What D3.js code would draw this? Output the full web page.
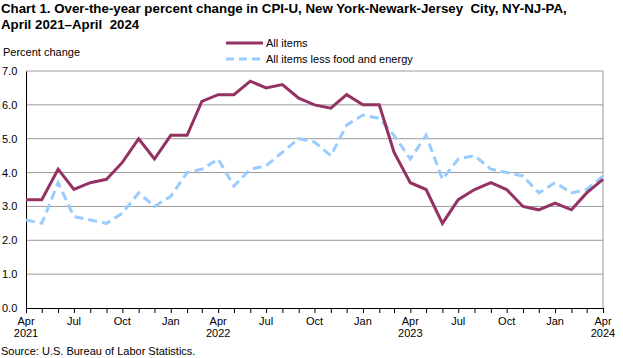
<!DOCTYPE html>
<html>
<head>
<meta charset="utf-8">
<script src="https://cdn.jsdelivr.net/npm/d3@7"></script>
<style>
  body { margin: 0; background: #fff; font-family: "Liberation Sans", Arial, sans-serif; }
  svg text { font-family: "Liberation Sans", Arial, sans-serif; white-space: pre; }
</style>
</head>
<body>
<div id="chart"></div>
<script>
// months Apr 2021 .. Apr 2024
const months = d3.range(37).map(i => new Date(2021, 3 + i, 1));

const allItems = [3.2, 3.2, 4.1, 3.5, 3.7, 3.8, 4.3, 5.0, 4.4, 5.1, 5.1, 6.1,
    6.3, 6.3, 6.7, 6.5, 6.6, 6.2, 6.0, 5.9, 6.3, 6.0, 6.0, 4.6,
    3.7, 3.5, 2.5, 3.2, 3.5, 3.7, 3.5, 3.0, 2.9, 3.1, 2.9, 3.4, 3.8];

const coreItems = [2.6, 2.5, 3.7, 2.7, 2.6, 2.5, 2.8, 3.4, 3.0, 3.3, 4.0, 4.1,
    4.4, 3.6, 4.1, 4.2, 4.6, 5.0, 4.9, 4.5, 5.4, 5.7, 5.6, 5.1,
    4.4, 5.1, 3.8, 4.4, 4.5, 4.1, 4.0, 3.9, 3.4, 3.7, 3.4, 3.5, 3.9];

const yTicks = [0, 1, 2, 3, 4, 5, 6, 7];
const seriesNames = ["All items", "All items less food and energy"];

const width = 623, height = 358;
const margin = {top: 71, right: 20, bottom: 50, left: 26};
const innerW = width - margin.left - margin.right;
const innerH = height - margin.top - margin.bottom;

const svg = d3.select("#chart").append("svg")
    .attr("width", width)
    .attr("height", height);

// title
svg.append("text")
    .attr("x", 1).attr("y", 13)
    .attr("font-size", "13.3px").attr("font-weight", "bold")
    .text("Chart 1. Over-the-year percent change in CPI-U, New York-Newark-Jersey  City, NY-NJ-PA,");
svg.append("text")
    .attr("x", 1).attr("y", 29)
    .attr("font-size", "13.3px").attr("font-weight", "bold")
    .text("April 2021\u2013April  2024");

svg.append("text")
    .attr("x", 3).attr("y", 56)
    .attr("font-size", "11px")
    .text("Percent change");

const g = svg.append("g")
    .attr("transform", "translate(" + margin.left + "," + margin.top + ")");

const x = d3.scaleTime()
    .domain([months[0], months[36]])
    .range([0, innerW]);

const y = d3.scaleLinear()
    .domain([0, 7])
    .range([innerH, 0]);

// gridlines
g.selectAll(".grid")
    .data(yTicks.slice(1))
    .enter().append("line")
    .attr("class", "grid")
    .attr("x1", 0).attr("x2", innerW)
    .attr("y1", d => y(d)).attr("y2", d => y(d))
    .attr("stroke", "#9a9a9a").attr("stroke-width", 1);

// right border
g.append("line")
    .attr("x1", innerW).attr("x2", innerW)
    .attr("y1", 0).attr("y2", innerH)
    .attr("stroke", "#9a9a9a");

// y axis
const yAxis = d3.axisLeft(y).tickValues(yTicks).tickSize(0).tickPadding(5)
    .tickFormat(d3.format(".1f"));
const yg = g.append("g").call(yAxis);
yg.select(".domain").attr("stroke", "#000");
yg.selectAll("text").attr("font-size", "11px").attr("fill", "#000")
    .attr("x", -24).attr("text-anchor", "start");

// x axis: ticks every month, labels every quarter
const xAxis = d3.axisBottom(x).tickValues(months).tickSize(5).tickSizeOuter(0)
    .tickFormat("");
const xg = g.append("g")
    .attr("transform", "translate(0," + innerH + ")")
    .call(xAxis);
xg.select(".domain").attr("stroke", "#000");
xg.selectAll(".tick line").attr("stroke", "#000");

const labelMonths = months.filter((d, i) => i % 3 === 0);
const lbl = g.append("g").selectAll(".xlbl")
    .data(labelMonths)
    .enter().append("text")
    .attr("x", d => x(d))
    .attr("y", innerH + 17)
    .attr("text-anchor", "middle")
    .attr("font-size", "11px");
lbl.append("tspan").attr("x", d => x(d)).text(d => d3.timeFormat("%b")(d));
lbl.append("tspan").attr("x", d => x(d)).attr("dy", 12)
    .text(d => d.getMonth() === 3 ? d.getFullYear() : "");

// lines
const line = d3.line()
    .x((d, i) => x(months[i]))
    .y(d => y(d));

g.append("path")
    .datum(coreItems)
    .attr("fill", "none")
    .attr("stroke", "#99ccff")
    .attr("stroke-width", 3)
    .attr("stroke-dasharray", "9,5")
    .attr("d", line);

g.append("path")
    .datum(allItems)
    .attr("fill", "none")
    .attr("stroke", "#933263")
    .attr("stroke-width", 3)
    .attr("d", line);

// legend
const legend = svg.append("g").attr("transform", "translate(226,43)");
legend.append("line")
    .attr("x1", 0).attr("x2", 37).attr("y1", 0).attr("y2", 0)
    .attr("stroke", "#933263").attr("stroke-width", 3);
legend.append("line")
    .attr("x1", 0).attr("x2", 37).attr("y1", 16).attr("y2", 16)
    .attr("stroke", "#99ccff").attr("stroke-width", 3)
    .attr("stroke-dasharray", "8,5");
legend.selectAll(".ltxt")
    .data(seriesNames)
    .enter().append("text")
    .attr("x", 40)
    .attr("y", (d, i) => i * 16 + 4)
    .attr("font-size", "11px")
    .text(d => d);

svg.append("text")
    .attr("x", 1).attr("y", 355)
    .attr("font-size", "11px")
    .text("Source: U.S. Bureau of Labor Statistics.");
</script>
</body>
</html>
